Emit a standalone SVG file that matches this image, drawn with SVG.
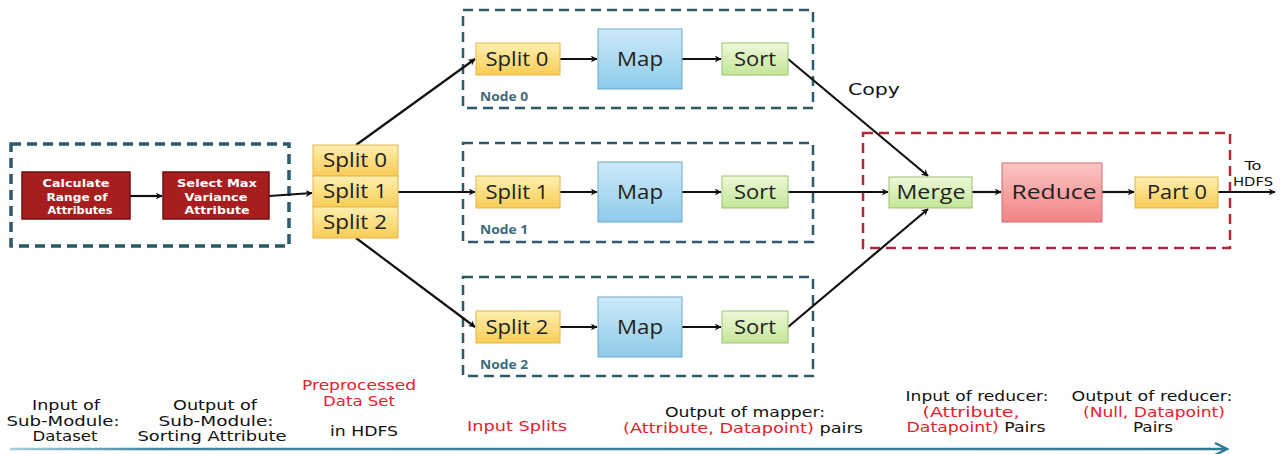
<svg xmlns="http://www.w3.org/2000/svg" width="1281" height="454" viewBox="0 0 1281 454">
<defs>
<linearGradient id="gY" x1="0" y1="0" x2="0" y2="1"><stop offset="0" stop-color="#fff0b0"/><stop offset="1" stop-color="#f8cc55"/></linearGradient>
<linearGradient id="gB" x1="0" y1="0" x2="0" y2="1"><stop offset="0" stop-color="#cdeafa"/><stop offset="1" stop-color="#8ecbea"/></linearGradient>
<linearGradient id="gG" x1="0" y1="0" x2="0" y2="1"><stop offset="0" stop-color="#eef9d8"/><stop offset="1" stop-color="#c3e597"/></linearGradient>
<linearGradient id="gR" x1="0" y1="0" x2="0" y2="1"><stop offset="0" stop-color="#fbc4c4"/><stop offset="1" stop-color="#f08484"/></linearGradient>
<linearGradient id="gLine" gradientUnits="userSpaceOnUse" x1="10" y1="0" x2="1228" y2="0"><stop offset="0" stop-color="#a9cfdc"/><stop offset="0.12" stop-color="#3d87a0"/><stop offset="1" stop-color="#2f7a94"/></linearGradient>
<marker id="ah" viewBox="0 0 10 10" refX="9" refY="5" markerWidth="7" markerHeight="7" orient="auto" markerUnits="userSpaceOnUse"><path d="M0,0 L10,5 L0,10 L3,5 z" fill="#111"/></marker>
</defs>
<style>
text{font-family:"Open Sans","Noto Sans","Liberation Sans",sans-serif;}
.t{font-size:20px;fill:#222;text-anchor:middle;}
.w{font-family:"DejaVu Sans","Liberation Sans",sans-serif;font-size:11px;fill:#fff;text-anchor:middle;font-weight:700;}
.lab{font-family:"DejaVu Sans","Liberation Sans",sans-serif;font-size:13.3px;fill:#111;text-anchor:middle;}
.red{fill:#e8202a;}
.nd{font-size:12.5px;font-weight:700;fill:#3b6b7c;}
.dash{fill:none;stroke:#2c5a6a;stroke-width:2.5;stroke-dasharray:10 6;}
.yel{fill:url(#gY);stroke:#e3b64a;stroke-width:1;}
.blu{fill:url(#gB);stroke:#6ea7c4;stroke-width:1;}
.grn{fill:url(#gG);stroke:#9ec173;stroke-width:1;}
.pnk{fill:url(#gR);stroke:#cf6d6d;stroke-width:1;}
.dr{fill:#a81e1e;stroke:#6e1010;stroke-width:1.5;}
.c{fill:none;stroke:#111;stroke-width:2.2;marker-end:url(#ah);}
</style>

<g id="containers">
<rect id="submodule" x="11" y="144" width="278" height="102" class="dash" style="stroke-width:3.5"/>
<rect id="node0-box" x="463" y="10" width="350" height="98" class="dash"/>
<rect id="node1-box" x="463" y="143" width="350" height="99" class="dash"/>
<rect id="node2-box" x="463" y="277" width="350" height="99" class="dash"/>
<rect id="reducer-box" x="863" y="133" width="367" height="115" class="dash" style="stroke:#b02a3a"/>
<text class="nd" x="480" y="101" textLength="48" lengthAdjust="spacingAndGlyphs">Node 0</text>
<text class="nd" x="480" y="234" textLength="48" lengthAdjust="spacingAndGlyphs">Node 1</text>
<text class="nd" x="480" y="369" textLength="48" lengthAdjust="spacingAndGlyphs">Node 2</text>
</g>

<g id="connectors">
<line x1="130" y1="196" x2="162" y2="196" class="c"/>
<line x1="269" y1="196" x2="312" y2="193" class="c"/>
<line x1="356" y1="145" x2="475" y2="59" class="c"/>
<line x1="398" y1="192" x2="475" y2="192" class="c"/>
<line x1="356" y1="238" x2="475" y2="327" class="c"/>
<line x1="560" y1="59" x2="597" y2="59" class="c"/>
<line x1="682" y1="59" x2="721" y2="59" class="c"/>
<line x1="560" y1="192" x2="597" y2="192" class="c"/>
<line x1="682" y1="192" x2="721" y2="192" class="c"/>
<line x1="560" y1="327" x2="597" y2="327" class="c"/>
<line x1="682" y1="327" x2="721" y2="327" class="c"/>
<line x1="788" y1="59" x2="928" y2="176" class="c"/>
<line x1="788" y1="192" x2="888" y2="192" class="c"/>
<line x1="788" y1="327" x2="928" y2="209" class="c"/>
<line x1="972" y1="192" x2="1001" y2="192" class="c"/>
<line x1="1102" y1="192" x2="1134" y2="192" class="c"/>
<line x1="1218" y1="192" x2="1275" y2="192" class="c"/>
<text class="lab" x="874" y="95" style="font-size:16px" textLength="52" lengthAdjust="spacingAndGlyphs">Copy</text>
<text class="lab" x="1253" y="170" style="font-size:11.5px" textLength="17" lengthAdjust="spacingAndGlyphs">To</text>
<text class="lab" x="1253" y="186" style="font-size:11.5px" textLength="40" lengthAdjust="spacingAndGlyphs">HDFS</text>
</g>

<g id="calc">
<rect x="22" y="172" width="108" height="47" class="dr"/>
<text class="w" x="76" y="187" textLength="67" lengthAdjust="spacingAndGlyphs">Calculate</text>
<text class="w" x="77" y="200.5" textLength="61" lengthAdjust="spacingAndGlyphs">Range of</text>
<text class="w" x="80" y="214" textLength="65" lengthAdjust="spacingAndGlyphs">Attributes</text>
</g>
<g id="select">
<rect x="163" y="172" width="106" height="47" class="dr"/>
<text class="w" x="217" y="187" textLength="80" lengthAdjust="spacingAndGlyphs">Select Max</text>
<text class="w" x="216" y="200.5" textLength="63" lengthAdjust="spacingAndGlyphs">Variance</text>
<text class="w" x="217" y="214" textLength="65" lengthAdjust="spacingAndGlyphs">Attribute</text>
</g>

<g id="splits">
<rect x="313" y="145" width="85" height="31" class="yel"/>
<rect x="313" y="176" width="85" height="31" class="yel"/>
<rect x="313" y="207" width="85" height="31" class="yel"/>
<text class="t" x="355" y="167" textLength="64" lengthAdjust="spacingAndGlyphs">Split 0</text>
<text class="t" x="355" y="198" textLength="64" lengthAdjust="spacingAndGlyphs">Split 1</text>
<text class="t" x="355" y="229" textLength="64" lengthAdjust="spacingAndGlyphs">Split 2</text>
</g>

<g id="node0">
<rect x="476" y="43" width="84" height="32" class="yel"/>
<text class="t" x="517" y="66" textLength="63" lengthAdjust="spacingAndGlyphs">Split 0</text>
<rect x="598" y="29" width="84" height="60" class="blu"/>
<text class="t" x="640" y="66" textLength="46" lengthAdjust="spacingAndGlyphs">Map</text>
<rect x="722" y="43" width="66" height="32" class="grn"/>
<text class="t" x="755" y="66" textLength="42" lengthAdjust="spacingAndGlyphs">Sort</text>
</g>
<g id="node1">
<rect x="476" y="176" width="84" height="32" class="yel"/>
<text class="t" x="517" y="199" textLength="63" lengthAdjust="spacingAndGlyphs">Split 1</text>
<rect x="598" y="162" width="84" height="60" class="blu"/>
<text class="t" x="640" y="199" textLength="46" lengthAdjust="spacingAndGlyphs">Map</text>
<rect x="722" y="176" width="66" height="32" class="grn"/>
<text class="t" x="755" y="199" textLength="42" lengthAdjust="spacingAndGlyphs">Sort</text>
</g>
<g id="node2">
<rect x="476" y="311" width="84" height="32" class="yel"/>
<text class="t" x="517" y="334" textLength="63" lengthAdjust="spacingAndGlyphs">Split 2</text>
<rect x="598" y="297" width="84" height="60" class="blu"/>
<text class="t" x="640" y="334" textLength="46" lengthAdjust="spacingAndGlyphs">Map</text>
<rect x="722" y="311" width="66" height="32" class="grn"/>
<text class="t" x="755" y="334" textLength="42" lengthAdjust="spacingAndGlyphs">Sort</text>
</g>

<g id="merge">
<rect x="889" y="177" width="83" height="31" class="grn"/>
<text class="t" x="931" y="199" textLength="69" lengthAdjust="spacingAndGlyphs">Merge</text>
</g>
<g id="reduce">
<rect x="1002" y="163" width="100" height="59" class="pnk"/>
<text class="t" x="1054" y="199" textLength="85" lengthAdjust="spacingAndGlyphs">Reduce</text>
</g>
<g id="part0">
<rect x="1135" y="177" width="83" height="31" class="yel"/>
<text class="t" x="1177" y="199" textLength="60" lengthAdjust="spacingAndGlyphs">Part 0</text>
</g>

<g id="timeline">
<line x1="10" y1="449" x2="1226" y2="449" stroke="url(#gLine)" stroke-width="2.5"/>
<path d="M1215,443 L1227,449 L1215,455" fill="none" stroke="#2f7a94" stroke-width="2.5"/>
<text class="lab" x="66" y="410" textLength="68" lengthAdjust="spacingAndGlyphs">Input of</text>
<text class="lab" x="63" y="425.5" textLength="113" lengthAdjust="spacingAndGlyphs">Sub-Module:</text>
<text class="lab" x="65" y="441" textLength="65" lengthAdjust="spacingAndGlyphs">Dataset</text>
<text class="lab" x="215" y="410" textLength="84" lengthAdjust="spacingAndGlyphs">Output of</text>
<text class="lab" x="216" y="425.5" textLength="115" lengthAdjust="spacingAndGlyphs">Sub-Module:</text>
<text class="lab" x="212" y="441" textLength="149" lengthAdjust="spacingAndGlyphs">Sorting Attribute</text>
<text class="lab red" x="359" y="390" textLength="114" lengthAdjust="spacingAndGlyphs">Preprocessed</text>
<text class="lab red" x="359" y="405.5" textLength="72" lengthAdjust="spacingAndGlyphs">Data Set</text>
<text class="lab" x="364" y="436" textLength="68" lengthAdjust="spacingAndGlyphs">in HDFS</text>
<text class="lab red" x="517" y="431" textLength="100" lengthAdjust="spacingAndGlyphs">Input Splits</text>
<text class="lab" x="745" y="417" textLength="160" lengthAdjust="spacingAndGlyphs">Output of mapper:</text>
<text class="lab" x="743" y="432.5" textLength="240" lengthAdjust="spacingAndGlyphs"><tspan class="red">(Attribute, Datapoint)</tspan> pairs</text>
<text class="lab" x="977" y="401" textLength="143" lengthAdjust="spacingAndGlyphs">Input of reducer:</text>
<text class="lab red" x="971" y="416.5" textLength="97" lengthAdjust="spacingAndGlyphs">(Attribute,</text>
<text class="lab" x="976" y="432" textLength="139" lengthAdjust="spacingAndGlyphs"><tspan class="red">Datapoint)</tspan> Pairs</text>
<text class="lab" x="1152" y="401" textLength="161" lengthAdjust="spacingAndGlyphs">Output of reducer:</text>
<text class="lab red" x="1154" y="416.5" textLength="142" lengthAdjust="spacingAndGlyphs">(Null, Datapoint)</text>
<text class="lab" x="1153" y="432" textLength="40" lengthAdjust="spacingAndGlyphs">Pairs</text>
</g>
</svg>
